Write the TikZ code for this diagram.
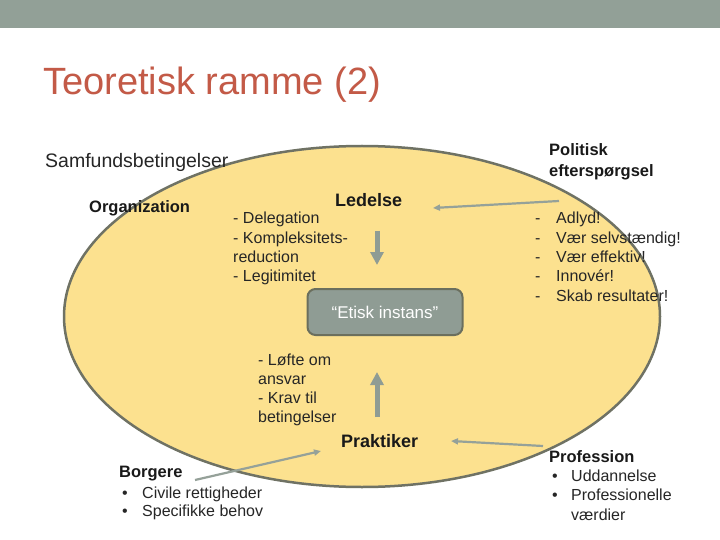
\documentclass[tikz,border=0pt]{standalone}
\usepackage{fontspec}
\setmainfont{Liberation Sans}
\usetikzlibrary{arrows.meta}
\definecolor{band}{HTML}{92A097}
\definecolor{titlec}{HTML}{C35A47}
\definecolor{ellfill}{HTML}{FCE18F}
\definecolor{ellline}{HTML}{6F7264}
\definecolor{boxfill}{HTML}{8F9C94}
\definecolor{boxline}{HTML}{6B6F5E}
\definecolor{arrowc}{HTML}{8F9C94}
\definecolor{textc}{HTML}{262626}
\tikzset{
  txt/.style={inner sep=0pt, anchor=base west, text=textc, font=\fontsize{16}{19.3}\selectfont},
  hdr/.style={inner sep=0pt, anchor=base west, text=black!90, font=\fontsize{16.5}{21}\selectfont\bfseries},
  bighdr/.style={inner sep=0pt, anchor=base west, text=black!90, font=\fontsize{18}{22}\selectfont\bfseries},
  thickarrow/.style={draw=arrowc, line width=5pt, -{Triangle[length=13pt,width=13pt]}},
  thinarrow/.style={draw=arrowc!95!white, line width=2.2pt, -{Triangle[length=7pt,width=6pt]}},
}
\begin{document}
\begin{tikzpicture}[x=1pt,y=-1pt]
\useasboundingbox (0,0) rectangle (720,540);
\fill[white] (0,0) rectangle (720,540);
\fill[band] (0,0) rectangle (720,28);
% title
\node[inner sep=0pt, anchor=base west, text=titlec, font=\fontsize{38}{44}\selectfont] (title) at (43,95) {Teoretisk ramme (2)};
% ellipse
\draw[fill=ellfill, draw=ellline, line width=2.5pt] (362,316.5) ellipse [x radius=298, y radius=170.5];
% texts
\node[txt, font=\fontsize{19.5}{23}\selectfont] (samf) at (45,168) {Samfundsbetingelser};
\node[hdr] (org) at (89,213) {Organization};
\node[bighdr] (ledelse) at (335,207) {Ledelse};
\node[txt] (deleg) at (233,224) {\begin{tabular}[t]{@{}l@{}}- Delegation\\- Kompleksitets-\\reduction\\- Legitimitet\end{tabular}};
\node[hdr] (politisk) at (549,156) {\begin{tabular}[t]{@{}l@{}}Politisk\\efterspørgsel\end{tabular}};
\node[txt] (demands) at (535,224) {\begin{tabular}[t]{@{}l@{\hspace{15.7pt}}l@{}}-&Adlyd!\\-&Vær selvstændig!\\-&Vær effektiv!\\-&Innovér!\\-&Skab resultater!\end{tabular}};
\node[draw=boxline, fill=boxfill, line width=2pt, rounded corners=8pt, minimum width=155pt, minimum height=46pt, text=white, font=\fontsize{17}{20}\selectfont, text depth=0pt] (etisk) at (385,312) {“Etisk instans”};
\node[txt, font=\fontsize{16}{19}\selectfont] (loefte) at (258,365) {\begin{tabular}[t]{@{}l@{}}- Løfte om\\ansvar\\- Krav til\\betingelser\end{tabular}};
\node[bighdr] (praktiker) at (341,447) {Praktiker};
\node[hdr] (borgere) at (119,477) {Borgere};
\node[txt, font=\fontsize{16}{18.5}\selectfont] (borglist) at (122,498) {\begin{tabular}[t]{@{}l@{\hspace{14.4pt}}l@{}}•&Civile rettigheder\\•&Specifikke behov\end{tabular}};
\node[hdr] (profession) at (549,462) {Profession};
\node[txt, font=\fontsize{16}{19.5}\selectfont] (proflist) at (552,481) {\begin{tabular}[t]{@{}l@{\hspace{13.4pt}}l@{}}•&Uddannelse\\•&Professionelle\\&værdier\end{tabular}};
% arrow end points
\coordinate (downA) at (377,231);
\coordinate (downB) at (377,265);
\coordinate (upA) at (377,417);
\coordinate (upB) at (377,372);
\coordinate (polA) at (559,201);
\coordinate (polB) at (433,208);
\coordinate (profA) at (543,446);
\coordinate (profB) at (451,441);
\coordinate (borgA) at (195,480);
\coordinate (borgB) at (321,451);
\draw[thickarrow] (downA) -- (downB);
\draw[thickarrow] (upA) -- (upB);
\draw[thinarrow] (polA) -- (polB);
\draw[thinarrow] (profA) -- (profB);
\draw[thinarrow] (borgA) -- (borgB);
\end{tikzpicture}
\end{document}
